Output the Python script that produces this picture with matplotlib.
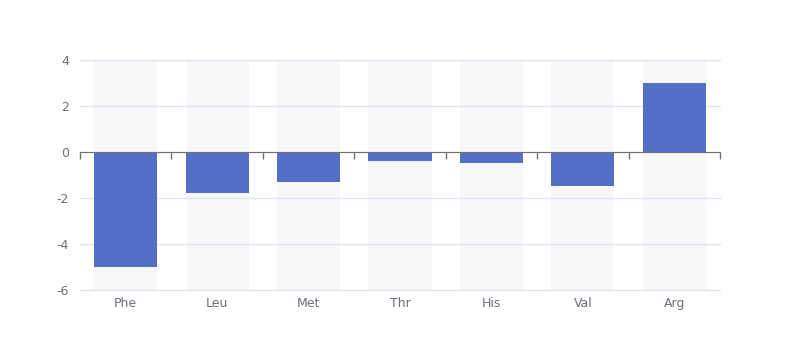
import matplotlib
matplotlib.use('Agg')
import matplotlib.pyplot as plt
import numpy as np

# amino acid values
categories = ['Phe', 'Leu', 'Met', 'Thr', 'His', 'Val', 'Arg']
values = [-5, -1.8, -1.3, -0.4, -0.5, -1.5, 3]
y_ticks = [-6, -4, -2, 0, 2, 4]

plt.rcParams['font.family'] = ['DejaVu Sans']
plt.rcParams['axes.unicode_minus'] = False
fig = plt.figure(figsize=(8, 3.6), dpi=100)
ax = fig.add_axes([80/800, 70/360, 640/800, 230/360])

x = np.arange(len(categories))
w = 0.69
ymin, ymax = y_ticks[0], y_ticks[-1]

# background bars (under the grid lines)
ax.bar(x, ymax - ymin, bottom=ymin, width=w, color='#f7f7f7', zorder=0.1)
ax.bar(x, values, width=w, color='#5470c6', zorder=3)

ax.set_xlim(-0.5, len(categories) - 0.5)
ax.set_ylim(ymin, ymax)
ax.set_yticks(y_ticks)
ax.yaxis.grid(True, color='#e0e6f1', linewidth=1)
ax.set_axisbelow(True)
for line in ax.get_ygridlines():
    line.set_clip_on(False)
for s in ['top', 'right', 'left']:
    ax.spines[s].set_visible(False)
ax.tick_params(axis='y', length=0, pad=8, labelsize=9, labelcolor='#6e7079')

# x axis line at zero with ticks at category boundaries
ax.spines['bottom'].set_position(('data', 0))
ax.spines['bottom'].set_color('#6e7079')
ax.spines['bottom'].set_zorder(4)
ax.set_xticks(np.arange(len(categories) + 1) - 0.5)
ax.set_xticklabels([])
ax.tick_params(axis='x', length=5, color='#6e7079', width=1)

# category labels at the bottom
sec = ax.secondary_xaxis(ymin, transform=ax.transData)
sec.set_xticks(x)
sec.set_xticklabels(categories)
sec.spines['bottom'].set_visible(False)
sec.tick_params(length=0, pad=5, labelsize=9, labelcolor='#6e7079')

fig.savefig('out.png', dpi=100)
